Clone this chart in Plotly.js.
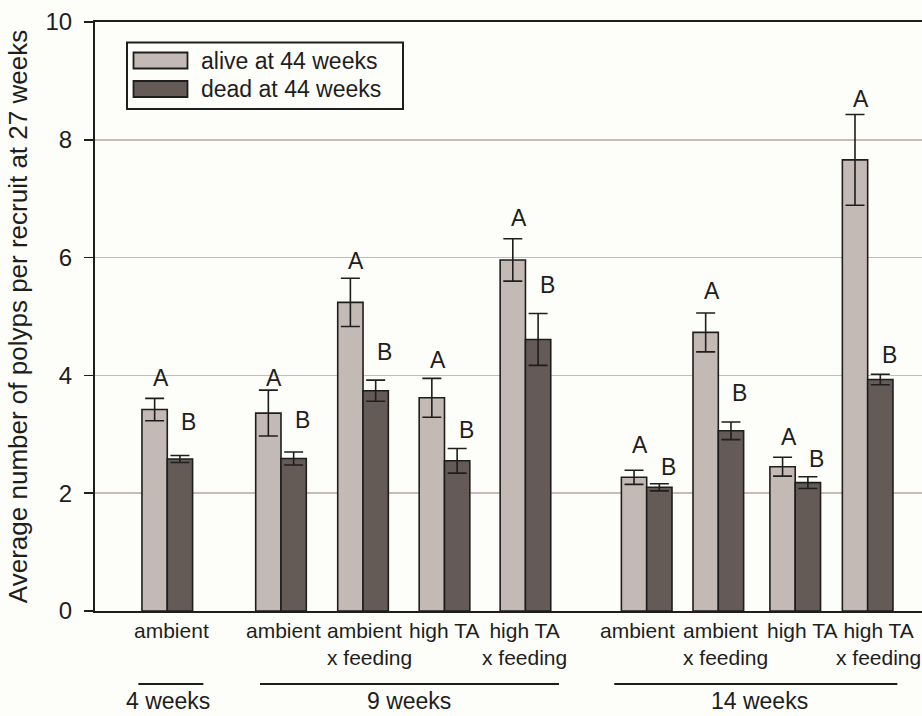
<!DOCTYPE html>
<html>
<head>
<meta charset="utf-8">
<script src="https://cdn.plot.ly/plotly-3.0.1.min.js"></script>
<style>
  html, body { margin: 0; padding: 0; background: #fdfdf9; }
  #chart { width: 922px; height: 716px; }
</style>
</head>
<body>
<div id="chart"></div>
<script>
// ---- data -------------------------------------------------------------
const tickLabels = [
  "ambient",
  "ambient", "ambient<br>x feeding", "high TA", "high TA<br>x feeding",
  "ambient", "ambient<br>x feeding", "high TA", "high TA<br>x feeding"
];
const groupNames = ["4 weeks", "9 weeks", "14 weeks"];

// mean polyps per recruit at 27 weeks
const aliveMean = [3.42, 3.36, 5.24, 3.62, 5.96, 2.27, 4.73, 2.45, 7.66];
const aliveErr  = [0.19, 0.39, 0.41, 0.33, 0.36, 0.12, 0.33, 0.16, 0.77];
const deadMean  = [2.58, 2.59, 3.74, 2.55, 4.61, 2.10, 3.06, 2.18, 3.93];
const deadErr   = [0.06, 0.11, 0.18, 0.21, 0.44, 0.06, 0.15, 0.10, 0.09];

// significance letters
const aliveLetters = ["A", "A", "A", "A", "A", "A", "A", "A", "A"];
const deadLetters  = ["B", "B", "B", "B", "B", "B", "B", "B", "B"];

// ---- layout helpers ---------------------------------------------------
// slot centres on the x axis (axis runs 0..10)
const slotX = [0.874, 2.249, 3.241, 4.226, 5.205, 6.671, 7.537, 8.467, 9.343];
const barW = 0.306;
// horizontal nudges (px) and alignment of the treatment labels
const labelShift = [4, 3, 6.5, 0, -1, -9, 7, 6.5, 11];
const labelAlign = ["center", "center", "left", "center", "center", "center", "left", "center", "center"];
// letter heights (data units)
const aliveLetterY = [3.96, 3.96, 5.94, 4.27, 6.68, 2.82, 5.43, 2.96, 8.69];
const deadLetterY  = [3.21, 3.24, 4.39, 3.07, 5.53, 2.44, 3.70, 2.58, 4.35];
// group underline spans and label centres (x axis units)
const groupSpan = [[0.524, 1.310], [1.995, 5.611], [6.279, 9.702]];
const groupLabelX = [0.886, 3.797, 8.029];

const INK = "#1e1e1e";
const ALIVE = "#c4bab5";
const DEAD = "#645a56";
const FONT = "Liberation Sans, Arial, sans-serif";

// plot area in pixels: left 95, right 922, top 22, bottom 611
const L = 95, R = 922, T = 22, B = 611;
const px = x => (x - L) / (R - L);
const py = y => (B - y) / (B - T);

const alive = {
  type: "bar", x: slotX, y: aliveMean, width: barW, offset: -barW,
  marker: { color: ALIVE, line: { color: INK, width: 1.6 } },
  error_y: { type: "data", array: aliveErr, color: INK, thickness: 1.6, width: 9.5 },
  name: "alive at 44 weeks", showlegend: false, hoverinfo: "y"
};
const dead = {
  type: "bar", x: slotX, y: deadMean, width: barW, offset: 0,
  marker: { color: DEAD, line: { color: INK, width: 1.6 } },
  error_y: { type: "data", array: deadErr, color: INK, thickness: 1.6, width: 9.5 },
  name: "dead at 44 weeks", showlegend: false, hoverinfo: "y"
};

const annotations = [];
slotX.forEach((x, i) => {
  annotations.push({
    x: x - barW / 2, y: aliveLetterY[i], xref: "x", yref: "y", xshift: 6,
    yanchor: "middle", text: aliveLetters[i], showarrow: false,
    font: { family: FONT, size: 23, color: INK }
  });
  annotations.push({
    x: x + barW / 2, y: deadLetterY[i], xref: "x", yref: "y", xshift: 9,
    yanchor: "middle", text: deadLetters[i], showarrow: false,
    font: { family: FONT, size: 23, color: INK }
  });
  // treatment label under each pair of bars
  annotations.push({
    x: x, y: py(617), xref: "x", yref: "paper", xshift: labelShift[i],
    xanchor: "center", yanchor: "top", align: labelAlign[i],
    text: tickLabels[i], showarrow: false,
    font: { family: FONT, size: 21, color: INK }
  });
});
groupNames.forEach((g, i) => {
  annotations.push({
    x: groupLabelX[i], y: py(716), xref: "x", yref: "paper",
    text: g, showarrow: false, yanchor: "bottom",
    font: { family: FONT, size: 23, color: INK }
  });
});
// legend entries
annotations.push({
  x: px(199), y: py(60.5), xref: "paper", yref: "paper", xanchor: "left", yanchor: "middle",
  text: "alive at 44 weeks", showarrow: false, font: { family: FONT, size: 23, color: INK }
});
annotations.push({
  x: px(199), y: py(89), xref: "paper", yref: "paper", xanchor: "left", yanchor: "middle",
  text: "dead at 44 weeks", showarrow: false, font: { family: FONT, size: 23, color: INK }
});

const shapes = groupSpan.map(s => ({
  type: "line", xref: "x", yref: "paper", x0: s[0], x1: s[1], y0: py(684), y1: py(684),
  line: { color: INK, width: 1.8 }
}));
shapes.push(
  { type: "rect", xref: "paper", yref: "paper", x0: px(127), x1: px(403), y0: py(42.5), y1: py(109),
    line: { color: INK, width: 2 }, fillcolor: "rgba(0,0,0,0)" },
  { type: "rect", xref: "paper", yref: "paper", x0: px(133.5), x1: px(187.5), y0: py(52.5), y1: py(68.5),
    line: { color: INK, width: 1.8 }, fillcolor: ALIVE },
  { type: "rect", xref: "paper", yref: "paper", x0: px(133.5), x1: px(187.5), y0: py(81), y1: py(97),
    line: { color: INK, width: 1.8 }, fillcolor: DEAD }
);

const layout = {
  width: 922, height: 716,
  margin: { l: L, r: 922 - R, t: T, b: 716 - B, pad: 0 },
  paper_bgcolor: "#fdfdf9", plot_bgcolor: "#fdfdf9",
  font: { family: FONT, color: INK },
  showlegend: false,
  xaxis: {
    range: [0, 10], tickvals: slotX, showticklabels: false,
    showgrid: false, zeroline: false, ticks: "",
    showline: true, mirror: true, linecolor: INK, linewidth: 2
  },
  yaxis: {
    range: [0, 10], dtick: 2, tick0: 0,
    ticks: "outside", ticklen: 9, tickwidth: 1.6, tickcolor: INK,
    ticklabelstandoff: 7,
    showline: true, linecolor: INK, linewidth: 2,
    showgrid: true, gridcolor: "#cbbbb7", gridwidth: 1.5, zeroline: false,
    tickfont: { family: FONT, size: 24, color: INK },
    title: { text: "Average number of polyps per recruit at 27 weeks",
             font: { family: FONT, size: 26, color: INK }, standoff: 10 }
  },
  annotations: annotations,
  shapes: shapes
};

Plotly.newPlot("chart", [alive, dead], layout, { displayModeBar: false, staticPlot: true });
</script>
</body>
</html>
